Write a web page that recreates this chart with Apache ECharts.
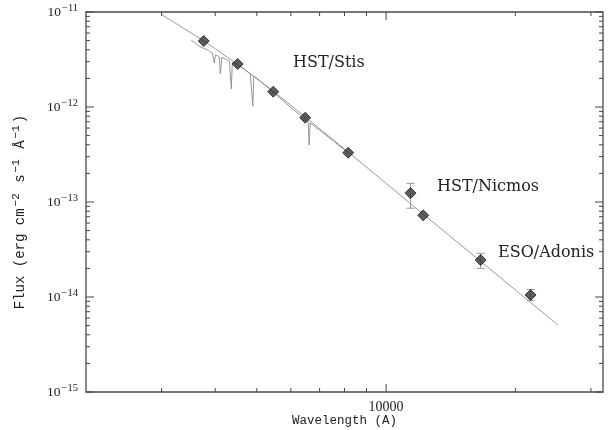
<!DOCTYPE html>
<html>
<head>
<meta charset="utf-8">
<script src="https://cdn.jsdelivr.net/npm/echarts@6/dist/echarts.min.js"></script>
<style>
  html, body { margin: 0; padding: 0; background: #fff; }
  #chart { width: 615px; height: 430px; }
</style>
</head>
<body>
<div id="chart"></div>
<script>
// photometry (wavelength in A, flux in erg cm-2 s-1 A-1)
const photWave = [3760, 4510, 5460, 6480, 8160, 11400, 12200, 16600, 21700];
const photFlux = [4.95e-12, 2.84e-12, 1.45e-12, 7.72e-13, 3.30e-13, 1.24e-13, 7.24e-14, 2.45e-14, 1.05e-14];

// error bars that show up in the plot
const errWave = [11400, 16600, 21700];
const errLow = [8.6e-14, 2.0e-14, 9.15e-15];
const errHigh = [1.57e-13, 2.88e-14, 1.2e-14];

// model curve
const fitWave = [3010, 3750, 4500, 5460, 6480, 8160, 10000, 12190, 16630, 25120];
const fitFlux = [9.30e-12, 5.01e-12, 2.84e-12, 1.47e-12, 7.85e-13, 3.36e-13, 1.57e-13, 7.48e-14, 2.36e-14, 5.07e-15];

// HST/Stis spectrum
const specWave = [3514, 3596, 3674, 3773, 3855, 3938, 3960, 3981, 4002, 4046, 4090, 4111, 4144, 4223, 4314, 4349, 4360, 4384,
  4502, 4675, 4828, 4867, 4893, 4920, 5121, 5491, 5948, 6376, 6584, 6619, 6655, 6984, 7569, 8157];
const specFlux = [5.07e-12, 4.72e-12, 4.33e-12, 4.13e-12, 3.93e-12, 3.70e-12, 3.53e-12, 2.90e-12, 3.53e-12, 3.48e-12, 3.36e-12,
  2.23e-12, 3.32e-12, 3.20e-12, 3.05e-12, 2.98e-12, 1.55e-12, 2.94e-12, 2.77e-12, 2.51e-12, 2.23e-12, 2.17e-12, 1.02e-12,
  2.12e-12, 1.83e-12, 1.40e-12, 1.02e-12, 7.85e-13, 6.96e-13, 3.98e-13, 6.79e-13, 5.73e-13, 4.33e-13, 3.28e-13];

// axes
const xMin = 2000, xMax = 32000;
const yMin = 1e-15, yMax = 1e-11;
const xMajorTicks = [10000];
const xMinorTicks = [3000, 4000, 5000, 6000, 7000, 8000, 9000, 20000, 30000];
const yMajorTicks = [1e-15, 1e-14, 1e-13, 1e-12, 1e-11];
const yMantissas = [2, 3, 4, 5, 6, 7, 8, 9];

const labels = [
  { text: 'HST/Stis', x: 293, y: 63 },
  { text: 'HST/Nicmos', x: 437, y: 187 },
  { text: 'ESO/Adonis', x: 498, y: 253 }
];

const yMinorTicks = [];
yMajorTicks.slice(0, -1).forEach(d => yMantissas.forEach(m => yMinorTicks.push(d * m)));

// [value, tick length]
const xTicks = xMajorTicks.map(v => [v, 8]).concat(xMinorTicks.map(v => [v, 4]));
const yTicks = yMajorTicks.map(v => [v, 8]).concat(yMinorTicks.map(v => [v, 4]));

const tickColor = '#444';
const serif = 'Liberation Serif';
const mono = 'Liberation Mono';

function tickLine(x1, y1, x2, y2) {
  return { type: 'line', shape: { x1, y1, x2, y2 }, style: { stroke: tickColor, lineWidth: 1 } };
}

const chart = echarts.init(document.getElementById('chart'));

const option = {
  animation: false,
  backgroundColor: '#fff',
  grid: {
    left: 86, right: 12, top: 12, bottom: 38,
    outerBoundsMode: 'none',
    show: true, borderColor: '#4a4a4a', borderWidth: 1.3
  },
  xAxis: {
    type: 'log', logBase: 10, min: xMin, max: xMax,
    name: 'Wavelength (A)', nameLocation: 'middle', nameGap: 22, nameMoveOverlap: false,
    nameTextStyle: { fontFamily: mono, fontSize: 12.5, color: '#222' },
    axisLine: { show: false },
    axisTick: { show: false },
    splitLine: { show: false },
    minorTick: { show: false },
    axisLabel: {
      margin: 8, fontFamily: serif, fontSize: 14, color: '#222',
      showMinLabel: false, showMaxLabel: false,
      formatter: v => (Math.abs(Math.log10(v) - 4) < 1e-6 ? '10000' : '')
    }
  },
  yAxis: {
    type: 'log', logBase: 10, min: yMin, max: yMax, splitNumber: 4,
    name: '{a|Flux (erg cm}{s|−2}{a| s}{s|−1}{a| Å}{s|−1}{a|)}',
    nameLocation: 'middle', nameGap: 56, nameRotate: 90,
    nameTextStyle: {
      padding: [0, 20, 0, 0],
      rich: {
        a: { fontFamily: mono, fontSize: 14, color: '#222' },
        s: { fontFamily: mono, fontSize: 11, color: '#222', padding: [0, 2, 8, 2] }
      }
    },
    axisLine: { show: false },
    axisTick: { show: false },
    splitLine: { show: false },
    axisLabel: {
      margin: 8,
      formatter: v => {
        const e = Math.round(Math.log10(v));
        return '{b|10}{s|−' + Math.abs(e) + '}';
      },
      rich: {
        b: { fontFamily: serif, fontSize: 13.5, color: '#222' },
        s: { fontFamily: serif, fontSize: 10.5, color: '#222', padding: [0, 0, 7, 1] }
      }
    }
  },
  graphic: labels.map(l => ({
    type: 'text', x: l.x, y: l.y,
    style: { text: l.text, font: '16px "DejaVu Serif"', fill: '#222', verticalAlign: 'middle' }
  })),
  series: [
    {
      type: 'line', name: 'fit', data: fitWave.map((w, i) => [w, fitFlux[i]]),
      showSymbol: false, smooth: false,
      lineStyle: { color: '#9a9a9a', width: 1 }, z: 2
    },
    {
      type: 'line', name: 'Stis', data: specWave.map((w, i) => [w, specFlux[i]]),
      showSymbol: false,
      lineStyle: { color: '#8a8a8a', width: 0.9 }, z: 3
    },
    {
      type: 'custom', name: 'err', data: errWave.map((w, i) => [w, errLow[i], errHigh[i]]),
      encode: { x: 0, y: [1, 2] },
      renderItem: (params, api) => {
        const lo = api.coord([api.value(0), api.value(1)]);
        const hi = api.coord([api.value(0), api.value(2)]);
        const st = { stroke: '#999', lineWidth: 1 };
        return {
          type: 'group', children: [
            { type: 'line', shape: { x1: lo[0], y1: lo[1], x2: hi[0], y2: hi[1] }, style: st },
            { type: 'line', shape: { x1: lo[0] - 4, y1: lo[1], x2: lo[0] + 4, y2: lo[1] }, style: st },
            { type: 'line', shape: { x1: hi[0] - 4, y1: hi[1], x2: hi[0] + 4, y2: hi[1] }, style: st }
          ]
        };
      },
      z: 4
    },
    {
      type: 'scatter', name: 'phot', data: photWave.map((w, i) => [w, photFlux[i]]),
      symbol: 'diamond', symbolSize: 11,
      itemStyle: { color: '#333', borderColor: '#1a1a1a', borderWidth: 1 },
      z: 5
    },
    {
      // wavelength ticks, bottom and top edges
      type: 'custom', name: 'xticks', data: xTicks.map(t => [t[0], 1e-13]),
      encode: { x: 0, y: 1 }, silent: true, z: 6,
      renderItem: (params, api) => {
        const t = xTicks[params.dataIndex];
        const b = api.coord([t[0], yMin]), u = api.coord([t[0], yMax]);
        return {
          type: 'group', children: [
            tickLine(b[0], b[1], b[0], b[1] - t[1]),
            tickLine(u[0], u[1], u[0], u[1] + t[1])
          ]
        };
      }
    },
    {
      // flux ticks, left and right edges
      type: 'custom', name: 'yticks', data: yTicks.map(t => [8000, t[0]]),
      encode: { x: 0, y: 1 }, silent: true, z: 6,
      renderItem: (params, api) => {
        const t = yTicks[params.dataIndex];
        const l = api.coord([xMin, t[0]]), r = api.coord([xMax, t[0]]);
        return {
          type: 'group', children: [
            tickLine(l[0], l[1], l[0] + t[1], l[1]),
            tickLine(r[0], r[1], r[0] - t[1], r[1])
          ]
        };
      }
    }
  ]
};

chart.setOption(option);
</script>
</body>
</html>
